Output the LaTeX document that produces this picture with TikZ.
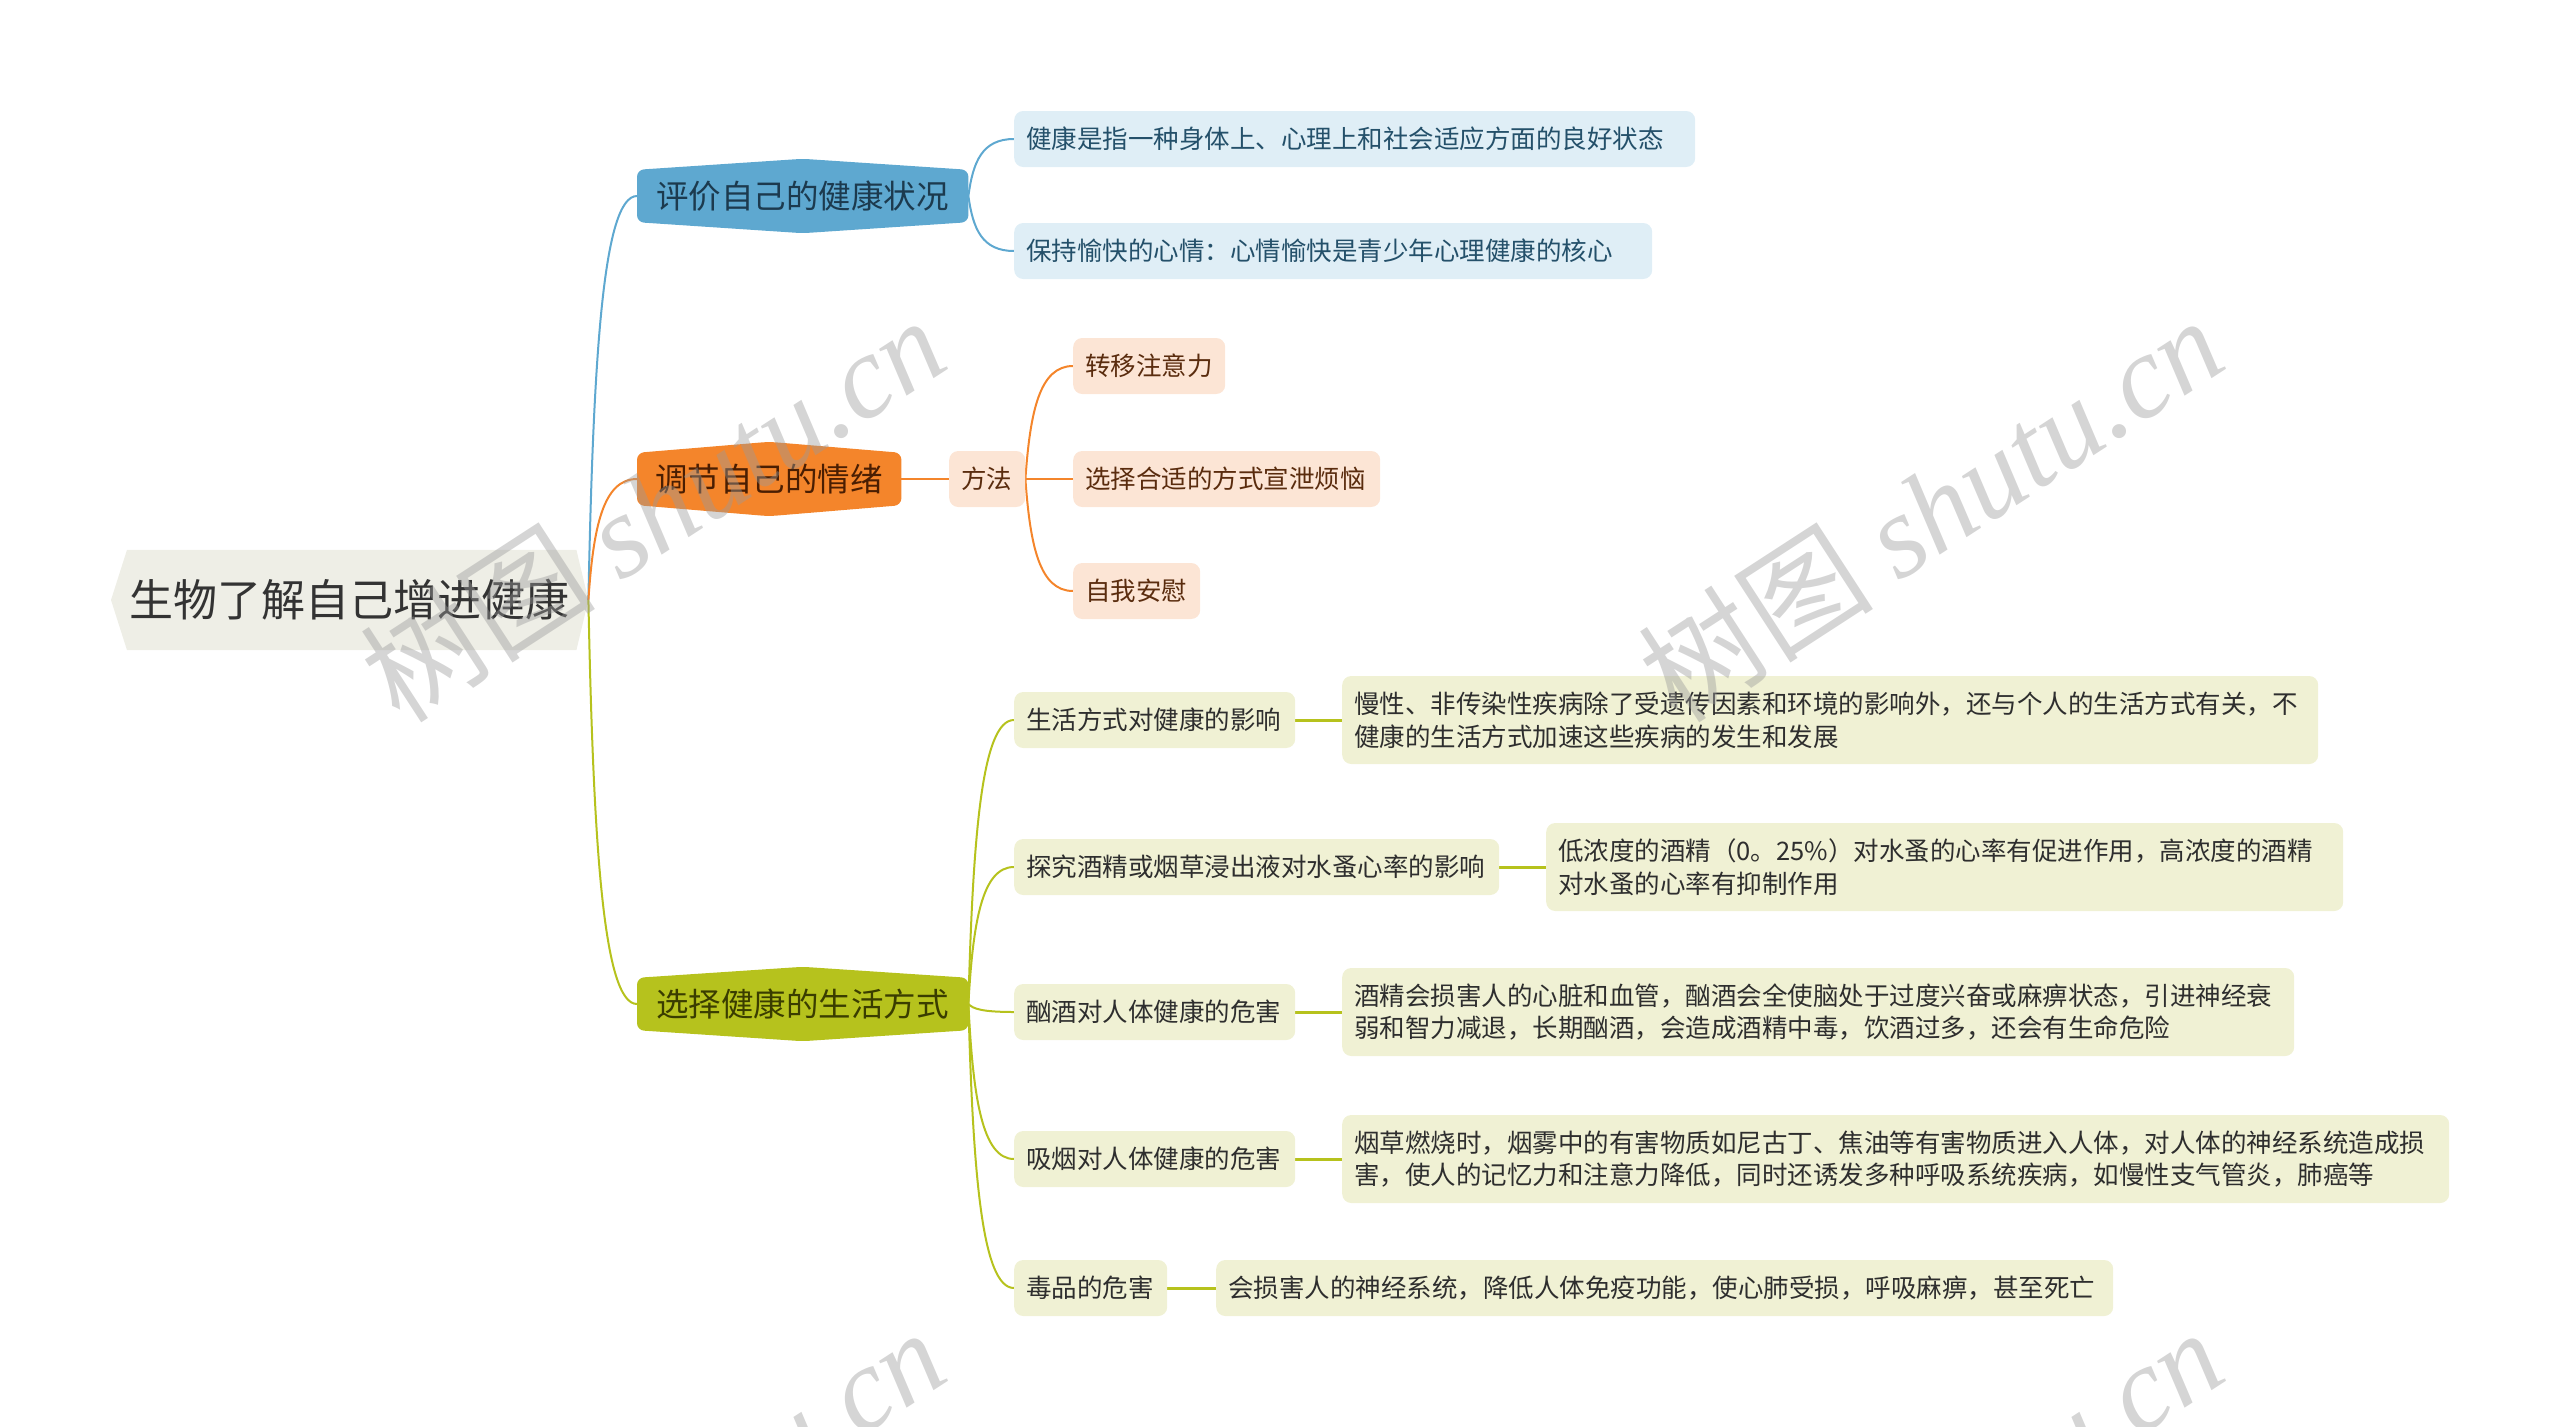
\documentclass[tikz,border=0pt]{standalone}
\usepackage{fontspec}
\newfontfamily\cjk{Noto Sans CJK SC}
\newfontfamily\wmserif{Liberation Serif}
\usetikzlibrary{calc}
\pgfdeclarelayer{bg}
\pgfsetlayers{bg,main}
\definecolor{rootfill}{HTML}{EEEEE6}
\definecolor{roottext}{HTML}{333333}
\definecolor{bluemain}{HTML}{5EA8D0}
\definecolor{bluelight}{HTML}{DFEEF6}
\definecolor{bluetext}{HTML}{24506A}
\definecolor{bluehead}{HTML}{1C3A4E}
\definecolor{orgmain}{HTML}{F4852B}
\definecolor{orglight}{HTML}{FCE5D5}
\definecolor{orgtext}{HTML}{5A2C0E}
\definecolor{orghead}{HTML}{4A1E02}
\definecolor{grnmain}{HTML}{B6C21D}
\definecolor{grnlight}{HTML}{F0F1D4}
\definecolor{grntext}{HTML}{2E2E2E}
\definecolor{grnhead}{HTML}{3A3D00}
\definecolor{wmgray}{HTML}{9A9A9A}
\newcommand\myhexfill[2]{\fill[#2, rounded corners=7pt] ([yshift=-11pt]#1.north west) -- (#1.north) -- ([yshift=-11pt]#1.north east) -- ([yshift=11pt]#1.south east) -- (#1.south) -- ([yshift=11pt]#1.south west) -- cycle;}
\tikzset{
  rootn/.style={anchor=west, minimum width=477, minimum height=100, inner sep=0pt, text=roottext, font=\cjk\fontsize{44}{50}\selectfont},
  lone/.style={anchor=west, minimum height=74, inner sep=0pt, font=\cjk\fontsize{32.5}{38}\selectfont},
  leaf/.style={anchor=west, rounded corners=9pt, minimum height=56, inner xsep=12pt, inner ysep=0pt, font=\cjk\fontsize{25.5}{32.7}\selectfont, align=left},
  leafb/.style={leaf, fill=bluelight, text=bluetext},
  leafo/.style={leaf, fill=orglight, text=orgtext},
  leafg/.style={leaf, fill=grnlight, text=grntext},
  dbl/.style={minimum height=88},
  curv/.style={to path={let \p1=(\tikztostart), \p2=(\tikztotarget) in .. controls ({\x1+0.1*(\x2-\x1)},{\y1+0.6*(\y2-\y1)}) and ({\x1+0.3*(\x2-\x1)},\y2) .. (\tikztotarget)}},
  lb/.style={draw=bluemain, line width=2pt},
  lo/.style={draw=orgmain, line width=2pt},
  lg/.style={draw=grnmain, line width=2pt},
  wm/.style={rotate=33, text=wmgray, opacity=0.42, inner sep=0pt}
}
\begin{document}
\begin{tikzpicture}[x=1pt,y=-1pt]
\useasboundingbox (0,0) rectangle (2560,1427);
\clip (0,0) rectangle (2560,1427);

% root
\node[rootn] (root) at (111,600) {生物了解自己增进健康};
% level one
\node[lone, minimum width=331, text=bluehead] (ev) at (637,196) {评价自己的健康状况};
\node[lone, minimum width=264, text=orghead] (em) at (637,479) {调节自己的情绪};
\node[lone, minimum width=331, text=grnhead] (ls) at (637,1004) {选择健康的生活方式};

% blue leaves
\node[leafb, text width=657] (b1) at (1014,139) {健康是指一种身体上、心理上和社会适应方面的良好状态};
\node[leafb, text width=614] (b2) at (1014,251) {保持愉快的心情：心情愉快是青少年心理健康的核心};

% orange leaves
\node[leafo, text width=52] (ff) at (949,479) {方法};
\node[leafo, text width=128] (o1) at (1073,366) {转移注意力};
\node[leafo, text width=283] (o2) at (1073,479) {选择合适的方式宣泄烦恼};
\node[leafo, text width=103] (o3) at (1073,591) {自我安慰};

% green leaves
\node[leafg, text width=257] (g1) at (1014,720) {生活方式对健康的影响};
\node[leafg, dbl, text width=952] (g1d) at (1342,720) {慢性、非传染性疾病除了受遗传因素和环境的影响外，还与个人的生活方式有关，不\\健康的生活方式加速这些疾病的发生和发展};
\node[leafg, text width=461] (g2) at (1014,867) {探究酒精或烟草浸出液对水蚤心率的影响};
\node[leafg, dbl, text width=773] (g2d) at (1546,867) {低浓度的酒精（0。25\%）对水蚤的心率有促进作用，高浓度的酒精\\对水蚤的心率有抑制作用};
\node[leafg, text width=257] (g3) at (1014,1012) {酗酒对人体健康的危害};
\node[leafg, dbl, text width=928] (g3d) at (1342,1012) {酒精会损害人的心脏和血管，酗酒会全使脑处于过度兴奋或麻痹状态，引进神经衰\\弱和智力减退，长期酗酒，会造成酒精中毒，饮酒过多，还会有生命危险};
\node[leafg, text width=257] (g4) at (1014,1159) {吸烟对人体健康的危害};
\node[leafg, dbl, text width=1083] (g4d) at (1342,1159) {烟草燃烧时，烟雾中的有害物质如尼古丁、焦油等有害物质进入人体，对人体的神经系统造成损\\害，使人的记忆力和注意力降低，同时还诱发多种呼吸系统疾病，如慢性支气管炎，肺癌等};
\node[leafg, text width=129] (g5) at (1014,1288) {毒品的危害};
\node[leafg, text width=873] (g5d) at (1216,1288) {会损害人的神经系统，降低人体免疫功能，使心肺受损，呼吸麻痹，甚至死亡};

\begin{pgfonlayer}{bg}
\fill[rootfill] ([xshift=16pt]root.north west) -- ([xshift=-12pt]root.north east) -- (root.east) -- ([xshift=-12pt]root.south east) -- ([xshift=16pt]root.south west) -- (root.west) -- cycle;
\myhexfill{ev}{bluemain}
\myhexfill{em}{orgmain}
\myhexfill{ls}{grnmain}

\draw[lb] (root.east) to[curv] (ev.west);
\draw[lo] (root.east) to[curv] (em.west);
\draw[lg] (root.east) to[curv] (ls.west);

\draw[lb] (ev.east) to[curv] (b1.west);
\draw[lb] (ev.east) to[curv] (b2.west);

\draw[lo, line width=2.5pt] (em.east) -- (ff.west);
\draw[lo] (ff.east) to[curv] (o1.west);
\draw[lo] (ff.east) -- (o2.west);
\draw[lo] (ff.east) to[curv] (o3.west);

\draw[lg] (ls.east) to[curv] (g1.west);
\draw[lg] (ls.east) to[curv] (g2.west);
\draw[lg] (ls.east) to[curv] (g3.west);
\draw[lg] (ls.east) to[curv] (g4.west);
\draw[lg] (ls.east) to[curv] (g5.west);

\draw[lg, line width=3pt] (g1.east) -- (g1d.west);
\draw[lg, line width=3pt] (g2.east) -- (g2d.west);
\draw[lg, line width=3pt] (g3.east) -- (g3d.west);
\draw[lg, line width=3pt] (g4.east) -- (g4d.west);
\draw[lg, line width=3pt] (g5.east) -- (g5d.west);
\end{pgfonlayer}

% watermarks
\node[wm] (w1) at (652,508) {\cjk\fontsize{118}{118}\selectfont 树图 \wmserif\itshape shutu.cn};
\node[wm] (w2) at (1930,508) {\cjk\fontsize{118}{118}\selectfont 树图 \wmserif\itshape shutu.cn};
\node[wm] (w3) at (652,1520) {\cjk\fontsize{118}{118}\selectfont 树图 \wmserif\itshape shutu.cn};
\node[wm] (w4) at (1930,1520) {\cjk\fontsize{118}{118}\selectfont 树图 \wmserif\itshape shutu.cn};
\end{tikzpicture}
\end{document}
